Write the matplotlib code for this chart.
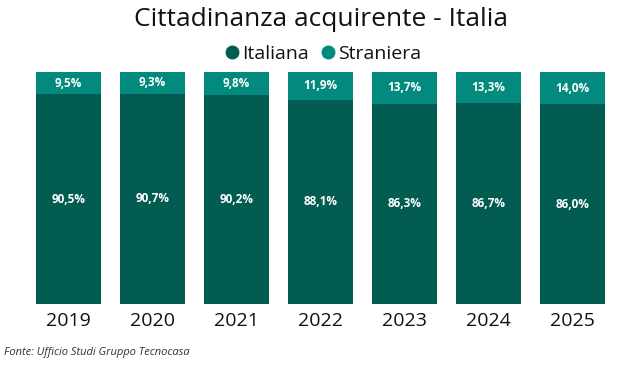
import numpy as np
import matplotlib.pyplot as plt
from matplotlib.lines import Line2D

plt.rcParams['font.family'] = ['Open Sans', 'DejaVu Sans']

anni = ['2019', '2020', '2021', '2022', '2023', '2024', '2025']
italiana = [90.5, 90.7, 90.2, 88.1, 86.3, 86.7, 86.0]
straniera = [9.5, 9.3, 9.8, 11.9, 13.7, 13.3, 14.0]

c_ita = '#035C52'
c_str = '#018A7D'

fig = plt.figure(figsize=(6.43, 3.67), dpi=100)
ax = fig.add_axes([26.5/643, 1-304/367, 588/643, 232/367])

x = np.arange(len(anni))
w = 0.77
ax.bar(x, italiana, w, color=c_ita)
ax.bar(x, straniera, w, bottom=italiana, color=c_str)

fmt = lambda v: f'{v:.1f}%'.replace('.', ',')
for i in range(len(anni)):
    ax.text(x[i], italiana[i] / 2, fmt(italiana[i]), ha='center', va='center',
            color='white', fontsize=8.5, fontweight='bold')
    ax.text(x[i], italiana[i] + straniera[i] / 2, fmt(straniera[i]), ha='center',
            va='center', color='white', fontsize=8.5, fontweight='bold')

ax.set_xlim(-0.5, len(anni) - 0.5)
ax.set_ylim(0, 100)
ax.set_xticks(x)
ax.set_xticklabels(anni, fontsize=14, color='#111111')
ax.tick_params(axis='x', length=0, pad=6)
ax.set_yticks([])
for s in ax.spines.values():
    s.set_visible(False)

fig.text(0.5, 1 - 20/367, 'Cittadinanza acquirente - Italia', ha='center', va='center',
         fontsize=19, color='#111111')

handles = [Line2D([], [], marker='o', ls='', color=c_ita, markersize=9),
           Line2D([], [], marker='o', ls='', color=c_str, markersize=9)]
fig.legend(handles, ['Italiana', 'Straniera'], loc='center', bbox_to_anchor=(0.5, 1 - 54/367),
           ncol=2, frameon=False, fontsize=14, handletextpad=0.0, columnspacing=0.5,
           handlelength=1.0, labelcolor='#111111')

fig.text(4/643, 1 - 352/367, 'Fonte: Ufficio Studi Gruppo Tecnocasa', ha='left', va='center',
         fontsize=8, style='italic', color='#333333')

fig.savefig('out.png', dpi=100)
